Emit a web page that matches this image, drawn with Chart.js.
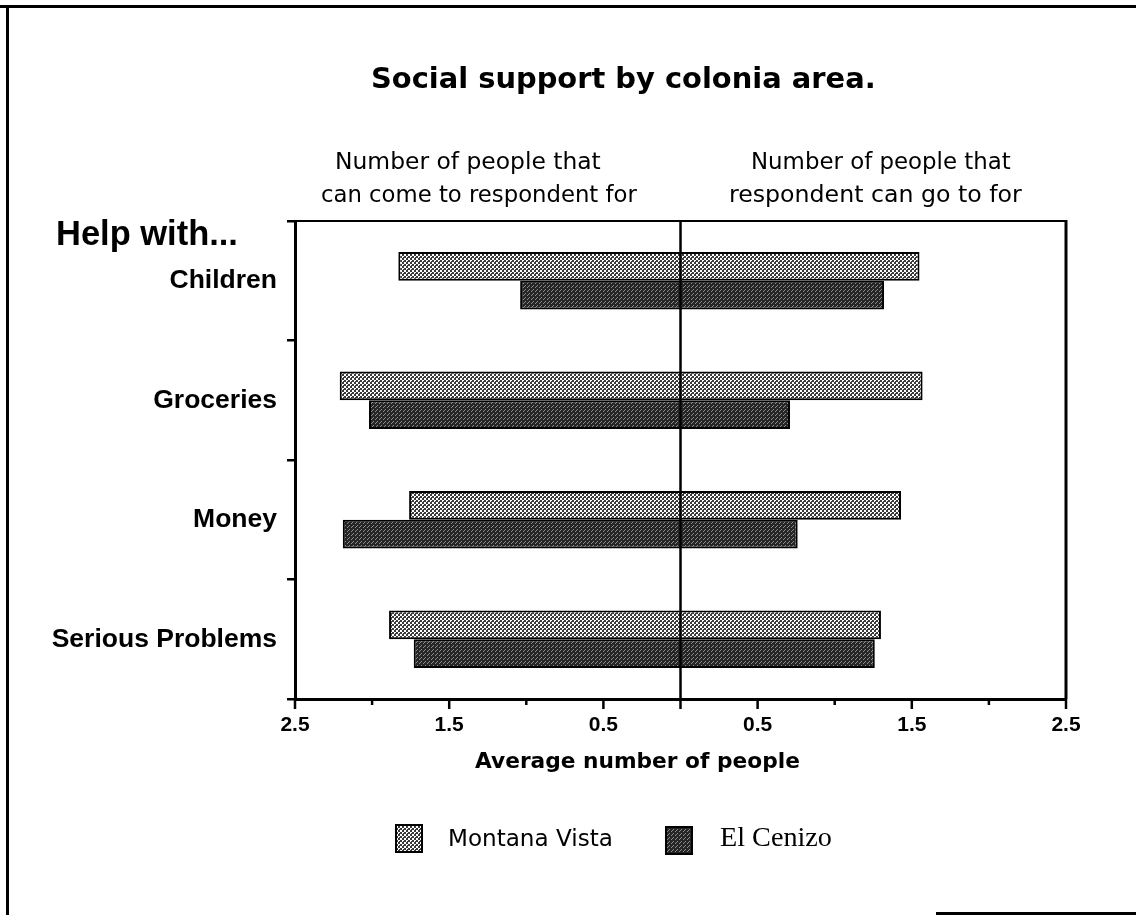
<!DOCTYPE html>
<html>
<head>
<meta charset="utf-8">
<script src="https://cdn.jsdelivr.net/npm/chart.js@4/dist/chart.umd.min.js"></script>
<style>
  html, body { margin: 0; padding: 0; background: #fff; }
  #wrap { width: 1136px; height: 915px; position: relative; }
</style>
</head>
<body>
<div id="wrap"><canvas id="c" width="1136" height="915"></canvas></div>
<script>
// ---- data ----
const categories = ["Children", "Groceries", "Money", "Serious Problems"];
// "Number of people that can come to respondent for" (left side)
const montanaVistaComeTo = [1.83, 2.21, 1.76, 1.89];
const elCenizoComeTo     = [1.04, 2.02, 2.19, 1.73];
// "Number of people that respondent can go to for" (right side)
const montanaVistaGoTo   = [1.55, 1.57, 1.43, 1.30];
const elCenizoGoTo       = [1.32, 0.71, 0.76, 1.26];
const seriesNames = ["Montana Vista", "El Cenizo"];
const labeledTicks = [0.5, 1.5, 2.5];

// ---- patterns ----
function makePattern(bg, fg, pts, size) {
  const pc = document.createElement('canvas');
  pc.width = size; pc.height = size;
  const p = pc.getContext('2d');
  p.fillStyle = bg; p.fillRect(0, 0, size, size);
  p.fillStyle = fg;
  pts.forEach(([x, y, w, h]) => p.fillRect(x, y, w || 1, h || 1));
  return document.getElementById('c').getContext('2d').createPattern(pc, 'repeat');
}
const mvPattern = makePattern('#ffffff', '#3a3a3a', [[0,0,2,2],[2,2,2,2],[1,0],[3,1]], 4);
const ecPattern = makePattern('#262626', '#8c8c8c', [[1,1],[3,3],[0,2]], 4);

function fitText(ctx, text, weight, family, left, right, baseline) {
  ctx.font = `${weight} 100px ${family}`;
  const w = ctx.measureText(text).width;
  const size = 100 * (right - left) / w;
  ctx.font = `${weight} ${size}px ${family}`;
  ctx.textAlign = 'left';
  ctx.textBaseline = 'alphabetic';
  ctx.fillStyle = '#000';
  ctx.fillText(text, left, baseline);
}

const decor = {
  id: 'decor',
  beforeDraw(chart) {
    const ctx = chart.ctx;
    ctx.save();
    ctx.fillStyle = '#fff';
    ctx.fillRect(0, 0, chart.width, chart.height);
    ctx.fillStyle = '#000';
    ctx.fillRect(0, 5, 1136, 3);
    ctx.fillRect(6, 5, 3, 910);
    ctx.fillRect(936, 912, 200, 3);
    ctx.restore();
  },
  afterDatasetsDraw(chart) {
    const ctx = chart.ctx, a = chart.chartArea, x = chart.scales.x;
    ctx.save();
    ctx.strokeStyle = '#000';
    ctx.lineWidth = 2.5;
    const x0 = x.getPixelForValue(0);
    ctx.beginPath(); ctx.moveTo(x0, a.top); ctx.lineTo(x0, a.bottom); ctx.stroke();
    ctx.lineWidth = 2;
    ctx.beginPath(); ctx.moveTo(a.left - 6, a.top); ctx.lineTo(a.right, a.top); ctx.stroke();
    ctx.lineWidth = 3;
    ctx.beginPath(); ctx.moveTo(a.right, a.top - 1); ctx.lineTo(a.right, a.bottom); ctx.stroke();
    ctx.lineWidth = 2.5;
    for (let v = -2.5; v <= 2.5001; v += 0.5) {
      const px = x.getPixelForValue(v);
      const major = labeledTicks.includes(Math.abs(Math.round(v * 10) / 10)) || Math.abs(v) < 1e-6;
      ctx.beginPath(); ctx.moveTo(px, a.bottom); ctx.lineTo(px, a.bottom + (major ? 10 : 6)); ctx.stroke();
    }
    ctx.restore();
  },
  afterDraw(chart) {
    const ctx = chart.ctx;
    ctx.save();
    fitText(ctx, 'Social support by colonia area.', 'bold', '"DejaVu Sans"', 371, 876, 88);
    fitText(ctx, 'Number of people that', 'normal', '"DejaVu Sans"', 335, 601, 169);
    fitText(ctx, 'can come to respondent for', 'normal', '"DejaVu Sans"', 321, 637, 202);
    fitText(ctx, 'Number of people that', 'normal', '"DejaVu Sans"', 751, 1011, 169);
    fitText(ctx, 'respondent can go to for', 'normal', '"DejaVu Sans"', 729, 1022, 202);
    fitText(ctx, 'Help with...', 'bold', '"Liberation Sans"', 56, 238, 245);
    fitText(ctx, 'Average number of people', 'bold', '"DejaVu Sans"', 475, 800, 768);
    ctx.lineWidth = 2; ctx.strokeStyle = '#000';
    ctx.fillStyle = mvPattern; ctx.fillRect(396, 825, 26, 27); ctx.strokeRect(396, 825, 26, 27);
    ctx.fillStyle = ecPattern; ctx.fillRect(666, 827, 26, 27); ctx.strokeRect(666, 827, 26, 27);
    fitText(ctx, seriesNames[0], 'normal', '"DejaVu Sans"', 448, 613, 846);
    fitText(ctx, seriesNames[1], 'normal', '"Liberation Serif"', 720, 832, 846);
    ctx.restore();
  }
};

new Chart(document.getElementById('c'), {
  type: 'bar',
  data: {
    labels: categories,
    datasets: [
      {
        label: seriesNames[0],
        data: categories.map((c, i) => [-montanaVistaComeTo[i], montanaVistaGoTo[i]]),
        backgroundColor: mvPattern,
        borderColor: '#000', borderWidth: 2, borderSkipped: false
      },
      {
        label: seriesNames[1],
        data: categories.map((c, i) => [-elCenizoComeTo[i], elCenizoGoTo[i]]),
        backgroundColor: ecPattern,
        borderColor: '#000', borderWidth: 2, borderSkipped: false
      }
    ]
  },
  options: {
    indexAxis: 'y',
    responsive: false,
    animation: false,
    devicePixelRatio: 1,
    barPercentage: 1,
    categoryPercentage: 0.48,
    layout: { padding: { left: 0, top: 221, right: 70, bottom: 0 } },
    plugins: { legend: { display: false }, tooltip: { enabled: false }, title: { display: false } },
    scales: {
      x: {
        type: 'linear', min: -2.5, max: 2.5,
        afterFit(s) { s.height = 216; },
        afterBuildTicks(s) {
          const t = [];
          for (let k = -5; k <= 5; k++) t.push({ value: k / 2 });
          s.ticks = t;
        },
        grid: { display: true, drawOnChartArea: false, drawTicks: false, color: 'transparent' },
        border: { display: true, color: '#000', width: 3 },
        ticks: {
          autoSkip: false, maxRotation: 0, padding: 14, color: '#000',
          font: { family: '"Liberation Sans"', weight: 'bold', size: 21 },
          callback(v) {
            const a = Math.abs(Math.round(v * 10) / 10);
            return labeledTicks.includes(a) ? a.toFixed(1) : '';
          }
        }
      },
      y: {
        afterFit(s) { s.width = 295; },
        grid: { display: true, drawOnChartArea: false, drawTicks: true, tickLength: 8, color: '#000', lineWidth: 2.5, offset: true },
        border: { display: true, color: '#000', width: 3 },
        ticks: {
          color: '#000', padding: 10,
          font: { family: '"Liberation Sans"', weight: 'bold', size: 26.5 }
        }
      }
    }
  },
  plugins: [decor]
});
</script>
</body>
</html>
